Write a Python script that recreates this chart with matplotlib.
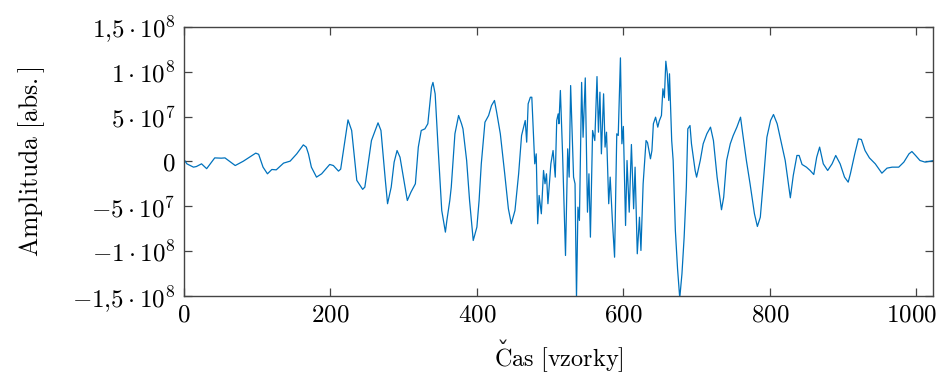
import matplotlib
matplotlib.use("Agg")
import matplotlib.pyplot as plt
import matplotlib.transforms as mtransforms
import numpy as np

# sample index and amplitude (in 1e6 units)
samples = [0, 1, 4, 13, 17, 24, 31, 42, 51, 56, 70, 81, 98, 102, 108, 114, 120, 126, 136, 145, 154, 163, 167,
           170, 174, 181, 188, 199, 204, 211, 214, 224, 229, 236, 244, 247, 256, 265, 269, 275, 278, 283, 287,
           291, 295, 302, 305, 310, 316, 320, 324, 329, 333, 338, 340, 343, 347, 352, 357, 359, 363, 365, 370,
           375, 379, 381, 386, 390, 395, 400, 403, 406, 411, 416, 420, 424, 427, 432, 438, 443, 447, 452, 457,
           461, 466, 468, 470, 473, 475, 479, 481, 483, 485, 488, 491, 493, 495, 497, 501, 504, 507, 509, 511,
           512, 514, 517, 521, 524, 526, 528, 532, 534, 536, 538, 540, 543, 545, 548, 551, 553, 555, 558, 561,
           564, 566, 568, 570, 573, 575, 577, 580, 582, 585, 588, 591, 593, 596, 598, 600, 603, 605, 608, 611,
           614, 616, 619, 622, 624, 627, 631, 633, 637, 639, 641, 644, 647, 649, 652, 654, 656, 658, 660, 662,
           663, 666, 668, 671, 674, 677, 680, 683, 686, 688, 691, 693, 698, 700, 705, 709, 714, 719, 723, 728,
           734, 737, 741, 746, 750, 755, 760, 763, 768, 773, 779, 783, 787, 792, 796, 801, 805, 810, 814, 821,
           828, 832, 837, 840, 844, 850, 855, 860, 864, 868, 873, 879, 885, 890, 896, 902, 907, 910, 916, 921,
           925, 930, 936, 944, 953, 960, 967, 976, 983, 990, 994, 999, 1005, 1012, 1019, 1023]
amplitude = [1, 1.1, -2.6, -6.3, -5.6, -2.6, -8, 4, 3.7, 4, -4.5, 0.3, 9.3, 8, -6.3, -13.7, -8.9, -9.3, -1.8, 0.4,
             8.5, 18.5, 16,
             8.5, -6.3, -17.4, -13.7, -3.3, -4.5, -10.7, -8.5, 46.3, 34.5, -21, -31, -28.5, 23.3, 43, 34.5, -21,
             -47, -28.5, -0.7, 12.2, 4.8, -28.5, -43.4, -34, -24.8, 16, 34.5, 36.3, 42, 82.6, 88, 75.3, 16, -54.5,
             -78.6, -65.6, -43.4, -28.5, 30.8, 51.2, 42, 36.3, 1.1, -43.4, -87.9, -73, -43.4, -2.6, 43.7, 51.2,
             62.3, 67.9, 54.8, 30.8, -13.7, -52.6, -69.3, -54.5, -13.7, 28.9, 45.6, 21.5, 64.2, 71.5, 71.5, -2.6,
             8.5, -69.3, -37.8, -58.2, -10, -24.8, -13.7, -47, -2.6, 12.2, -17.4, 45.6, 53, 42, 79, 8.5, -104.6,
             14.1, -17.4, 84.5, -17.4, -24.8, -152, -50.8, -65.6, 88, 27, 93, -56.4, -13.7, -84.2, 34.5, 23.3,
             94.5, 32.6, 77.1, 8.5, 75.3, 16, 32.6, -47, -17.4, -65.6, -106.5, 30.8, 29, 115.3, 19.7, 39, -71.2,
             1.1, -56.4, 18.9, -52.6, -6.3, -102.7, -62, -99, -24.8, 23.3, 21, 3, 12.2, 42, 49.3, 38.2, 45, 51.2,
             80.9, 71, 111.6, 97.6, 67.9, 97.6, 23.3, 1.1, -76.8, -119.4, -152, -125, -84.2, -28.5, 36.3, 40,
             19.7, -10, -17.4, 1.1, 19.7, 30.8, 38.2, 23.3, -17.4, -53.7, -39.7, 1.1, 19.7, 28.9, 38.2, 49.3,
             30.8, 1.1, -24.8, -58.2, -72.3, -62, -13.7, 27, 45.6, 52.3, 42, 27, 1.1, -40.4, -15.6, 6.7, 6.7,
             -3.3, -6.3, -10, -14.5, 4.8, 16, -2.6, -10, -2.6, 6.7, -2.6, -17.4, -23, -13.7, 8.5, 25.2, 24.5,
             12.2, 4, -2.6, -13, -7.4, -6.3, -6.3, -0.7, 8.5, 11.1, 6.7, 1.1, -0.7, 0.3, 1]

x_ticks = [0, 200, 400, 600, 800, 1000]
y_ticks = [-1.5e8, -1e8, -5e7, 0, 5e7, 1e8, 1.5e8]
y_tick_labels = [r"$-1{,}5\cdot10^{8}$", r"$-1\cdot10^{8}$", r"$-5\cdot10^{7}$", r"$0$",
                 r"$5\cdot10^{7}$", r"$1\cdot10^{8}$", r"$1{,}5\cdot10^{8}$"]

plt.rcParams["mathtext.fontset"] = "cm"
plt.rcParams["font.family"] = "serif"
plt.rcParams["font.serif"] = ["cmr10", "DejaVu Serif"]

fig = plt.figure(figsize=(9.4, 3.76), dpi=100)
ax = fig.add_axes([0.1957, 0.212, 0.797, 0.717])

ax.plot(samples, np.array(amplitude) * 1e6, color="#0072BD", lw=0.9)

ax.set_xlim(0, 1023)
ax.set_ylim(-1.5e8, 1.5e8)
ax.set_xticks(x_ticks)
ax.set_xticklabels([rf"${t}$" for t in x_ticks])
ax.set_yticks(y_ticks)
ax.set_yticklabels(y_tick_labels)
ax.tick_params(direction="in", length=6, width=0.9, color="#444444", top=True, right=True,
               labelsize=18, pad=6)
for s in ax.spines.values():
    s.set_color("#444444")
    s.set_linewidth(1.0)

# last x label sits a bit to the left so it is not cut by the figure edge
last = ax.get_xticklabels()[-1]
last.set_transform(last.get_transform() + mtransforms.ScaledTranslation(-5 / 100, 0, fig.dpi_scale_trans))

# x label: "Čas [vzorky]" -- caron drawn separately over the C
xl = ax.set_xlabel(r"$\mathrm{Cas\ [vzorky]}$", fontsize=17.5, labelpad=13)
ax.annotate("ˇ", xy=(0, 1), xycoords=xl, xytext=(9, -8), textcoords="offset pixels",
            ha="center", va="center", fontsize=17.5, family=["DejaVu Serif"], color="#222222")
ax.set_ylabel(r"$\mathrm{Amplituda\ [abs.]}$", fontsize=18.5, labelpad=18)

fig.savefig("out.png", dpi=100)
